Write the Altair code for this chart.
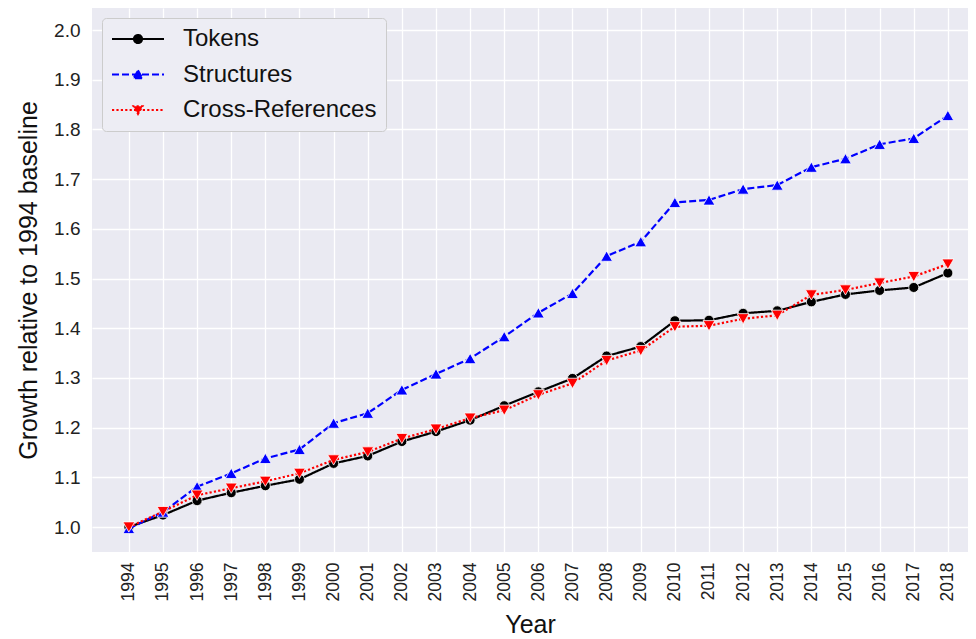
import altair as alt
import pandas as pd

years = list(range(1994, 2019))
series_names = ["Tokens", "Structures", "Cross-References"]
tokens = [1.000, 1.024, 1.053, 1.069, 1.083, 1.096, 1.128, 1.143, 1.172, 1.192, 1.215, 1.244,
          1.272, 1.299, 1.344, 1.363, 1.415, 1.416, 1.430, 1.435, 1.453, 1.468, 1.476, 1.482, 1.511]
structures = [0.997, 1.030, 1.081, 1.108, 1.138, 1.156, 1.209, 1.229, 1.276, 1.308, 1.339, 1.383,
              1.431, 1.470, 1.545, 1.574, 1.653, 1.658, 1.680, 1.688, 1.724, 1.741, 1.770, 1.782, 1.828]
crossrefs = [1.000, 1.031, 1.064, 1.078, 1.092, 1.108, 1.135, 1.151, 1.178, 1.197, 1.219, 1.235,
             1.266, 1.289, 1.335, 1.355, 1.403, 1.405, 1.419, 1.426, 1.467, 1.477, 1.491, 1.504, 1.529]
y_ticks = [1.0, 1.1, 1.2, 1.3, 1.4, 1.5, 1.6, 1.7, 1.8, 1.9, 2.0]

colors = ["#000000", "#0000FF", "#FF0000"]
dashes = [[1, 0], [7, 3], [2.2, 2.2]]
shapes = ["circle", "triangle-up", "triangle-down"]
# legend glyphs: line segment plus marker
legend_paths = [
    "M-2.6,0L2.6,0M0.42,0A0.42,0.42 0 1,1 -0.42,0A0.42,0.42 0 1,1 0.42,0Z",
    "M-2.6,0L2.6,0M0,-0.42L0.47,0.38L-0.47,0.38Z",
    "M-2.6,0L2.6,0M0,0.42L0.47,-0.38L-0.47,-0.38Z",
]

rows = []
for name, vals in zip(series_names, [tokens, structures, crossrefs]):
    for yr, v in zip(years, vals):
        rows.append({"Year": yr, "value": v, "series": name})
df = pd.DataFrame(rows)

xscale = alt.Scale(domain=[1992.92, 2018.59], nice=False, zero=False)
yscale = alt.Scale(domain=[0.9497, 2.0443], nice=False, zero=False)

x_enc = alt.X("Year:Q", scale=xscale,
              axis=alt.Axis(values=years, format="d", labelAngle=270, title="Year"))
y_enc = alt.Y("value:Q", scale=yscale,
              axis=alt.Axis(values=y_ticks, format=".1f",
                            title="Growth relative to 1994 baseline"))

base = alt.Chart(df)
layers = []
for name, col, dash, shp, sz in zip(series_names, colors, dashes, shapes, [100, 140, 140]):
    sub = base.transform_filter(alt.datum.series == name)
    layers.append(sub.mark_line(color=col, strokeDash=dash, strokeWidth=2.2, clip=True)
                  .encode(x=x_enc, y=y_enc))
    layers.append(sub.mark_point(shape=shp, filled=True, fill=col, stroke="white",
                                 strokeWidth=0.8, opacity=1, size=sz, clip=True)
                  .encode(x=x_enc, y=y_enc))

legend_layer = base.transform_filter("false").mark_point(opacity=1).encode(
    x=x_enc, y=y_enc,
    fill=alt.Fill("series:N", scale=alt.Scale(domain=series_names, range=colors), legend=None),
    stroke=alt.Stroke("series:N", scale=alt.Scale(domain=series_names, range=colors),
                      legend=None),
    strokeDash=alt.StrokeDash("series:N", scale=alt.Scale(domain=series_names, range=dashes),
                              legend=None),
    shape=alt.Shape("series:N", scale=alt.Scale(domain=series_names, range=legend_paths),
                    legend=alt.Legend(title=None, orient="none", legendX=10, legendY=10,
                                      symbolSize=400, symbolStrokeWidth=1.8,
                                      symbolOffset=15, labelLimit=0,
                                      labelFontSize=24, labelFont="Liberation Sans",
                                      labelColor="#111111", labelOffset=33,
                                      rowPadding=11.5, padding=9, offset=0,
                                      fillColor="#EDEDF4", strokeColor="#CCCCCC",
                                      cornerRadius=4)),
)

chart = alt.layer(*layers, legend_layer).properties(
    width=876, height=544,
    autosize=alt.AutoSizeParams(type="none"),
    padding={"left": 84, "top": 0, "right": 0, "bottom": 85},
).configure_view(
    fill="#EAEAF2", stroke=None
).configure_axis(
    grid=True, gridColor="white", gridWidth=1.3, domain=False, ticks=False,
    labelFont="Liberation Sans", labelColor="#222222",
    titleFont="Liberation Sans", titleFontSize=25, titleFontWeight="normal",
    titleColor="#111111",
).configure_axisX(
    labelFontSize=17.5,
    labelPadding=10, titlePadding=12, labelAlign="right", labelBaseline="middle",
).configure_axisY(
    labelFontSize=19,
    labelPadding=12, titlePadding=12,
)

chart.save("out.html", embed_options={"renderer": "svg", "actions": False})
